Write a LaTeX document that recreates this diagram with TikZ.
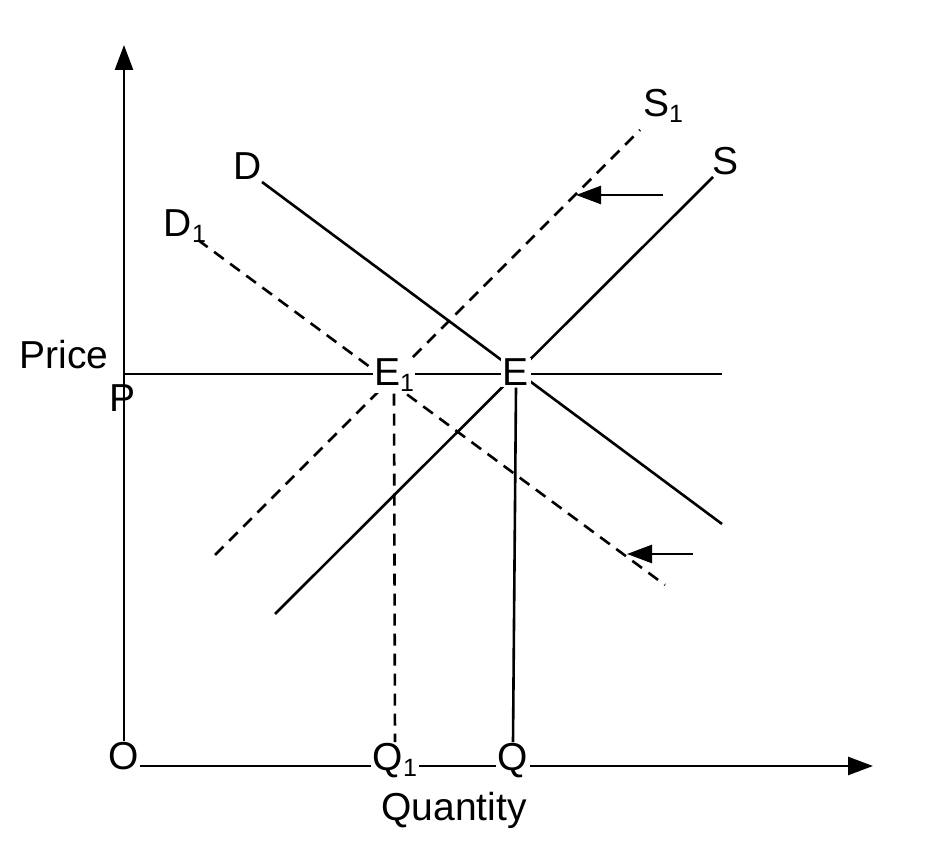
\documentclass[tikz,border=0pt]{standalone}
\usepackage{fontspec}
\setmainfont{Liberation Sans}
\usepackage{tikz}
\usetikzlibrary{arrows.meta}
\newcommand{\subidx}[1]{\raisebox{-6pt}{\fontsize{25}{25}\selectfont #1}}

\begin{document}
\begin{tikzpicture}[x=1pt,y=1pt,
    lbl/.style={font=\fontsize{39}{45}\selectfont, inner sep=1.5pt, anchor=base},
    curve/.style={line width=2.6pt},
    shifted/.style={line width=2.6pt, dash pattern=on 12pt off 8pt},
    tip/.style={-{Triangle[length=25pt,width=18pt]}}]
  \useasboundingbox (0,0) rectangle (932,862);
  % end points
  \coordinate (dtop) at (262,680);
  \coordinate (dbot) at (722,338);
  \coordinate (d1top) at (198,622);
  \coordinate (d1bot) at (665,277);
  \coordinate (sbot) at (275,248);
  \coordinate (stop) at (713,685);
  \coordinate (s1bot) at (215,307);
  \coordinate (s1top) at (640,732);
  \coordinate (pstart) at (124,488);
  \coordinate (pend) at (722,488);
  \coordinate (xstart) at (140,96);
  \coordinate (xend) at (873,96);
  \coordinate (ytop) at (124,817);
  \coordinate (a1) at (663,667);
  \coordinate (a1tip) at (576,667);
  \coordinate (a2) at (693,308);
  \coordinate (a2tip) at (627,308);
  % curves
  \draw[curve] (dtop) -- (dbot);
  \draw[curve] (sbot) -- (stop);
  \draw[shifted] (d1top) -- (d1bot);
  \draw[shifted] (s1bot) -- (s1top);
  \draw[curve] (pstart) -- (pend);
  \draw[curve,tip] (xstart) -- (xend);
  \draw[curve,tip] (a1) -- (a1tip);
  \draw[curve,tip] (a2) -- (a2tip);
  % labels
  \node[lbl,fill=white] (E1) at (394,476) {E\subidx{1}};
  \node[lbl,fill=white] (E) at (516,476) {E};
  \node[lbl,fill=white] (Q1) at (395,91) {Q\subidx{1}};
  \node[lbl,fill=white] (Q) at (513,91) {Q};
  \node[lbl] (O) at (124,92) {O};
  \node[lbl] (P) at (123,450) {P};
  \node[lbl] (price) at (64,493) {Price};
  \node[lbl] (qty) at (454,41) {Quantity};
  \node[lbl] (Dl) at (248,682) {D};
  \node[lbl] (D1l) at (185,625) {D\subidx{1}};
  \node[lbl] (S1l) at (663,745) {S\subidx{1}};
  \node[lbl] (Sl) at (725,687) {S};
  % axes and drops
  \draw[curve,tip] (O.north) -- (ytop);
  \draw[shifted] (E1.south) -- (Q1.north);
  \draw[curve] (E.south) -- (Q.north);
\end{tikzpicture}
\end{document}
